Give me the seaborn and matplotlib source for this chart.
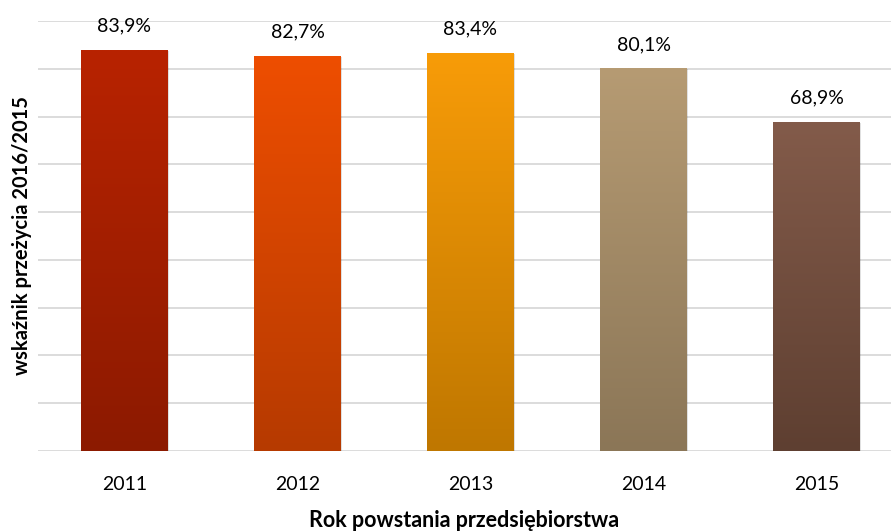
import numpy as np
import pandas as pd
import matplotlib
matplotlib.use("Agg")
import matplotlib.pyplot as plt
import seaborn as sns
from matplotlib.colors import LinearSegmentedColormap

years = ["2011", "2012", "2013", "2014", "2015"]
values = [83.9, 82.7, 83.4, 80.1, 68.9]
labels = ["83,9%", "82,7%", "83,4%", "80,1%", "68,9%"]
top_colors = ["#B82300", "#EE4E00", "#F89C08", "#B69B73", "#835B4A"]
bottom_colors = ["#8C1A00", "#B63A00", "#BF7700", "#8B7657", "#5E3F31"]

sns.set_theme(style="white")
plt.rcParams['font.family'] = ['Lato', 'DejaVu Sans']

df = pd.DataFrame({"year": years, "value": values})

fig = plt.figure(figsize=(8.91, 5.31), dpi=100)
ax = fig.add_axes([38/891, (531-451)/531, (891-38)/891, (451-21)/531])

sns.barplot(data=df, x="year", y="value", width=0.5, ax=ax, color="#cccccc",
            edgecolor="none")

ax.set_ylim(0, 90)
ax.set_xlim(-0.5, 4.5 - 12/173)
ax.set_yticks(np.arange(0, 91, 10))
ax.yaxis.grid(True, color="#D9D9D9", linewidth=1.3)
ax.set_axisbelow(True)
ax.tick_params(axis="y", left=False, labelleft=False)
ax.tick_params(axis="x", bottom=False, labelsize=14, pad=12, colors="#000000")
for s in ax.spines.values():
    s.set_visible(False)

for i, p in enumerate(ax.patches):
    x0 = p.get_x(); w = p.get_width(); h = p.get_height()
    cmap = LinearSegmentedColormap.from_list("g", [bottom_colors[i], top_colors[i]])
    grad = np.linspace(0, 1, 256).reshape(-1, 1)
    ax.add_patch(plt.Rectangle((x0 + 0.006, -0.25), w, h, color="#000000",
                               alpha=0.12, zorder=1.5, linewidth=0))
    im = ax.imshow(grad, extent=[x0, x0 + w, 0, h], origin="lower", cmap=cmap,
                   aspect="auto", zorder=2)
    im.set_clip_path(p)
    p.set_facecolor("none")
    ax.annotate(labels[i], (x0 + w/2, h), xytext=(0, 11), textcoords="offset points",
                ha="center", va="bottom", fontsize=14, color="#000000")

ax.set_xlim(-0.5, 4.5 - 12/173)
ax.set_ylim(0, 90)
ax.set_xlabel("Rok powstania przedsiębiorstwa", fontsize=15.5, fontweight="bold",
              labelpad=12, color="#000000")
ax.set_ylabel("wskaźnik przeżycia 2016/2015", fontsize=14.5, fontweight="bold",
              labelpad=4, color="#000000")

fig.savefig("out.png", dpi=100)
